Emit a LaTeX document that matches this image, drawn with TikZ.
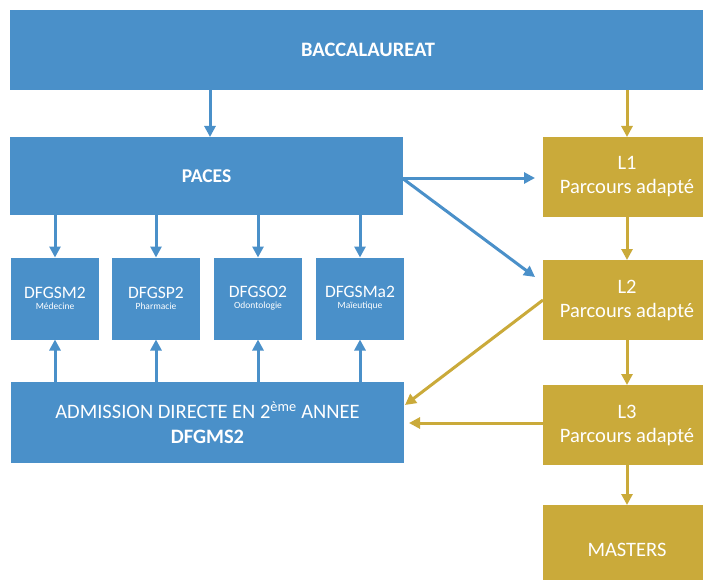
\documentclass[tikz,border=0pt]{standalone}
\usepackage{fontspec}
\setmainfont{Carlito}
\usetikzlibrary{arrows.meta}
\definecolor{bbox}{RGB}{74,144,201}
\definecolor{gbox}{RGB}{202,170,58}
\begin{document}
\begin{tikzpicture}[x=1pt,y=-1pt,
  blk/.style={inner sep=0pt,outer sep=0pt,text=white,align=center},
  bluebox/.style={blk,fill=bbox},
  goldbox/.style={blk,fill=gbox},
  barrow/.style={draw=bbox,line width=3pt,-{Triangle[length=11pt,width=11pt]}},
  garrow/.style={draw=gbox,line width=3pt,-{Triangle[length=11pt,width=11pt]}},
  bigb/.style={font=\fontsize{19.5}{22}\selectfont\bfseries},
  lbl/.style={font=\fontsize{20.5}{24}\selectfont}
]
\useasboundingbox (0,0) rectangle (703,580);
\fill[white] (0,0) rectangle (703,580);
% boxes
\node[bluebox,minimum width=716pt,minimum height=80pt,font=\fontsize{20.5}{22}\selectfont\bfseries] (bac) at (368,50) {BACCALAUREAT};
\node[bluebox,bigb,minimum width=393pt,minimum height=78pt] (paces) at (206.5,176) {PACES};
\node[bluebox,minimum width=393pt,minimum height=81pt,font=\fontsize{20.5}{25}\selectfont] (adm) at (207.5,422.5) {ADMISSION DIRECTE EN 2\textsuperscript{ème} ANNEE\\\textbf{DFGMS2}};
\node[bluebox,minimum width=88pt,minimum height=82pt] (d1) at (55,298.5) {{\fontsize{17.5}{18}\selectfont DFGSM2}\\[-1pt]{\fontsize{9.5}{11}\selectfont Médecine}};
\node[bluebox,minimum width=88pt,minimum height=82pt] (d2) at (156,298.5) {{\fontsize{17.5}{18}\selectfont DFGSP2}\\[-1pt]{\fontsize{9.5}{11}\selectfont Pharmacie}};
\node[bluebox,minimum width=88pt,minimum height=82pt] (d3) at (258,298.5) {{\fontsize{17.5}{18}\selectfont DFGSO2}\\[-1pt]{\fontsize{9.5}{11}\selectfont Odontologie}};
\node[bluebox,minimum width=88pt,minimum height=82pt] (d4) at (360,298.5) {{\fontsize{17.5}{18}\selectfont DFGSMa2}\\[-1pt]{\fontsize{9.5}{11}\selectfont Maïeutique}};
\node[goldbox,lbl,minimum width=168pt,minimum height=80pt] (l1) at (627,177) {L1\\Parcours adapté};
\node[goldbox,lbl,minimum width=168pt,minimum height=80pt] (l2) at (627,300) {L2\\Parcours adapté};
\node[goldbox,lbl,minimum width=168pt,minimum height=80pt] (l3) at (627,425) {L3\\Parcours adapté};
\node[goldbox,lbl,minimum width=168pt,minimum height=90pt] (ms) at (627,550) {MASTERS};
% coordinates
\coordinate (pr) at (402,178);
\coordinate (l2t) at (535,277);
\coordinate (l2s) at (543,300);
\coordinate (admr) at (405,405);
\coordinate (l3s) at (543,423);
\coordinate (admr2) at (409,423);
% arrows
\draw[barrow] (bac.south -| 210,0) -- (paces.north -| 210,0);
\draw[garrow] (bac.south -| l1.north) -- (l1.north);
\foreach \d in {d1,d2,d3,d4}{
  \draw[barrow] (paces.south -| \d.north) -- (\d.north);
  \draw[barrow] (adm.north -| \d.south) -- (\d.south);
}
\draw[barrow,shorten >=8pt] (pr) -- (l1.west |- pr);
\draw[barrow] (pr) -- (l2t);
\draw[garrow] (l1.south) -- (l2.north);
\draw[garrow] (l2.south) -- (l3.north);
\draw[garrow] (l3.south) -- (ms.north);
\draw[garrow] (l2s) -- (admr);
\draw[garrow] (l3s) -- (admr2);
\end{tikzpicture}
\end{document}
